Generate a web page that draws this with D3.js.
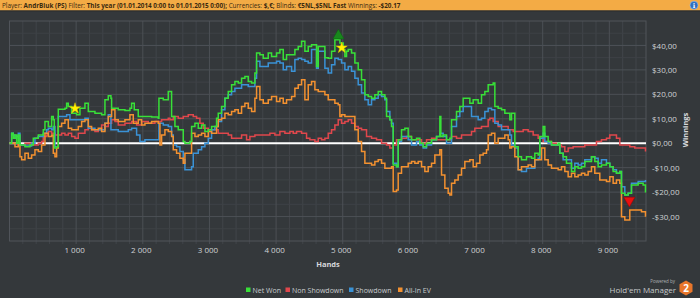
<!DOCTYPE html>
<html><head><meta charset="utf-8">
<script src="https://cdnjs.cloudflare.com/ajax/libs/d3/7.8.5/d3.min.js"></script>
<style>
html,body{margin:0;padding:0;background:#34383b;}
svg{display:block;}
</style></head>
<body>
<svg id="c" width="700" height="298"></svg>
<script>
// ---- DATA (hand, winnings $) ----
const netWon = [[0,0],[32,4.1],[57,2.0],[82,3.4],[107,0],[132,3.4],[157,-0.7],[232,-1.4],[307,-0.7],[357,2.0],[432,3.4],[507,5.5],[532,8.9],[582,6.8],[632,10.9],[657,9.6],[672,-2.0],[707,-1.4],[732,13.9],[832,14.3],[857,16.4],[882,15.0],[932,12.3],[1007,11.6],[1057,14.3],[1132,16.4],[1182,13.0],[1282,12.3],[1382,11.6],[1432,17.8],[1482,19.4],[1522,18.4],[1532,14.3],[1632,13.7],[1732,13.4],[1807,14.3],[1832,16.4],[1872,13.7],[1932,10.9],[2032,10.9],[2132,10.7],[2232,10.2],[2242,18.4],[2307,17.8],[2382,21.2],[2407,21.2],[2432,10.9],[2482,6.8],[2532,5.5],[2607,0.7],[2632,0],[2707,0.7],[2732,6.8],[2782,8.2],[2832,6.1],[2882,7.5],[2932,4.8],[2982,5.5],[3032,6.8],[3107,10.2],[3132,12.3],[3182,15.0],[3232,18.4],[3282,21.2],[3332,23.9],[3382,25.3],[3432,24.6],[3482,26.6],[3532,27.3],[3582,25.3],[3632,24.6],[3682,28.7],[3707,36.9],[3757,36.2],[3807,34.8],[3882,36.9],[3932,35.5],[4007,36.9],[4057,38.3],[4107,34.2],[4157,36.2],[4232,36.2],[4282,38.3],[4332,39.6],[4382,41.7],[4432,37.6],[4482,39.6],[4532,40.3],[4607,31.4],[4632,39.6],[4682,39.6],[4732,35.0],[4782,34.8],[4832,37.6],[4882,42.3],[4932,43.0],[4957,41.0],[5007,38.3],[5032,35.5],[5057,37.6],[5082,38.3],[5132,36.9],[5182,32.8],[5232,30.1],[5282,26.0],[5332,19.8],[5382,19.1],[5432,18.4],[5482,19.8],[5532,21.2],[5582,19.8],[5632,18.4],[5657,10.9],[5707,9.6],[5732,6.8],[5757,-8.9],[5807,-9.6],[5832,1.4],[5882,5.5],[5932,6.1],[5982,2.7],[6032,1.4],[6107,2.0],[6157,0],[6207,-1.4],[6257,0],[6332,1.4],[6407,2.7],[6457,10.9],[6472,2.7],[6507,3.4],[6557,1.4],[6607,2.0],[6632,9.6],[6707,13.0],[6757,15.0],[6807,18.4],[6857,18.4],[6907,16.4],[6957,17.8],[7032,16.4],[7082,19.8],[7132,21.2],[7182,23.9],[7257,24.6],[7282,15.0],[7332,14.3],[7382,13.7],[7432,12.3],[7507,9.6],[7532,12.3],[7582,-1.4],[7632,-5.5],[7682,-6.8],[7757,-5.5],[7832,-6.1],[7882,-4.1],[7932,-4.8],[7957,2.7],[8007,6.8],[8032,2.7],[8082,0.7],[8132,-0.7],[8232,0],[8257,-4.1],[8307,-5.5],[8357,-8.2],[8432,-11.6],[8482,-9.6],[8532,-10.2],[8582,-9.6],[8632,-7.5],[8732,-5.5],[8782,-7.5],[8832,-9.6],[8882,-8.9],[8957,-8.2],[9007,-9.6],[9057,-11.6],[9107,-12.3],[9157,-11.6],[9182,-20.5],[9232,-21.2],[9282,-20.5],[9332,-17.1],[9432,-16.4],[9507,-17.1],[9542,-20.2]];

const showdown = [[0,0],[32,4.1],[57,3.4],[82,2.0],[107,2.7],[132,4.1],[157,-0.7],[232,-1.1],[332,0],[382,2.0],[432,2.7],[507,4.1],[557,5.5],[582,6.1],[632,5.5],[657,6.8],[682,-1.4],[732,10.9],[807,10.9],[857,11.6],[907,9.6],[1082,9.6],[1132,10.2],[1182,6.1],[1282,5.5],[1382,5.5],[1432,8.2],[1482,11.6],[1522,5.5],[1632,4.8],[1782,5.5],[1832,6.1],[1907,3.4],[1957,0.7],[2032,1.4],[2207,1.4],[2242,8.2],[2307,7.5],[2382,6.8],[2432,3.4],[2457,-0.7],[2507,-1.4],[2557,-3.4],[2607,-6.8],[2632,-10.9],[2682,-10.9],[2732,-9.6],[2757,-4.1],[2832,-2.7],[2882,-1.4],[2932,0],[2982,2.0],[3032,5.5],[3082,6.8],[3132,8.9],[3182,13.7],[3232,18.4],[3282,19.8],[3332,21.2],[3382,22.5],[3482,23.9],[3582,23.2],[3632,23.2],[3682,26.6],[3707,33.5],[3757,31.4],[3832,31.4],[3882,32.8],[4007,33.5],[4057,32.8],[4107,30.1],[4157,31.4],[4232,29.4],[4282,34.2],[4332,34.8],[4382,34.2],[4432,33.5],[4482,32.8],[4532,38.3],[4607,30.7],[4632,37.6],[4682,37.6],[4732,30.7],[4782,28.7],[4832,32.1],[4882,34.8],[4932,34.2],[4982,32.8],[5032,30.1],[5082,31.4],[5132,29.4],[5182,26.6],[5232,23.9],[5282,20.5],[5332,17.8],[5382,15.7],[5432,17.8],[5482,18.4],[5532,19.8],[5582,19.1],[5632,17.8],[5657,13.0],[5707,9.6],[5732,8.2],[5757,-8.2],[5807,-9.6],[5832,0.7],[5882,2.7],[5982,1.4],[6032,-0.7],[6107,0.7],[6157,-0.7],[6207,-2.0],[6257,-0.7],[6332,1.4],[6407,2.7],[6457,4.1],[6507,2.7],[6557,0],[6632,6.8],[6707,10.9],[6757,13.0],[6807,15.0],[6932,10.9],[7032,9.6],[7082,10.2],[7132,13.0],[7182,14.3],[7232,13.7],[7282,8.2],[7332,7.5],[7382,5.5],[7507,3.4],[7532,-0.7],[7582,-2.0],[7632,-10.9],[7682,-11.6],[7757,-10.2],[7882,-6.8],[7932,-6.1],[7957,2.0],[8007,4.1],[8032,0.7],[8082,0],[8132,-0.7],[8257,-4.1],[8307,-6.8],[8432,-10.2],[8482,-8.2],[8532,-8.9],[8582,-8.2],[8632,-6.8],[8732,-5.5],[8782,-6.1],[8832,-8.2],[8882,-6.8],[8957,-8.2],[9007,-9.6],[9057,-10.9],[9107,-12.3],[9157,-11.6],[9182,-17.8],[9232,-21.2],[9282,-20.5],[9332,-16.4],[9432,-15.7],[9542,-15.0]];

const allInEV = [[0,0],[32,0],[82,-1.4],[132,-0.7],[157,-5.5],[182,-6.8],[232,-4.1],[282,-6.1],[332,-4.8],[382,-2.7],[432,-3.4],[482,-0.7],[532,4.1],[582,2.7],[632,3.4],[657,-4.1],[682,-5.5],[707,-2.0],[732,6.8],[782,8.2],[832,9.6],[882,6.1],[932,5.5],[1032,6.8],[1082,8.9],[1132,9.6],[1182,6.8],[1232,5.5],[1332,6.1],[1382,4.8],[1432,8.2],[1482,10.9],[1532,13.7],[1582,9.6],[1632,8.9],[1732,9.6],[1807,11.6],[1857,8.2],[1932,9.6],[1982,7.5],[2032,8.2],[2132,8.9],[2232,8.2],[2257,-0.7],[2282,3.4],[2332,5.5],[2382,4.8],[2432,2.7],[2457,-2.7],[2507,-4.1],[2557,-6.1],[2607,-8.2],[2632,-4.1],[2682,-4.1],[2732,4.1],[2782,2.7],[2832,3.4],[2882,4.1],[2932,2.7],[2982,4.8],[3032,4.1],[3107,6.8],[3132,9.6],[3182,10.2],[3232,12.3],[3282,11.6],[3332,13.0],[3382,13.7],[3432,12.3],[3482,15.0],[3532,16.4],[3582,14.3],[3632,13.0],[3682,18.4],[3707,23.2],[3757,17.8],[3807,16.4],[3882,17.8],[3932,19.1],[4007,17.1],[4057,18.4],[4107,16.4],[4157,17.8],[4232,19.1],[4282,22.5],[4332,23.9],[4382,26.0],[4432,17.8],[4482,23.9],[4532,25.3],[4582,21.9],[4632,21.2],[4682,21.2],[4732,19.8],[4782,17.8],[4882,16.4],[4932,15.7],[4957,10.9],[4982,11.6],[5032,10.9],[5132,10.9],[5182,5.5],[5232,0.7],[5282,-3.4],[5332,-8.2],[5432,-8.9],[5482,-7.5],[5532,-6.8],[5582,-8.2],[5632,-10.2],[5732,-9.6],[5757,-19.8],[5807,-19.1],[5832,-12.3],[5882,-9.6],[5982,-8.2],[6032,-7.5],[6082,-8.2],[6132,-7.5],[6182,-9.6],[6232,-11.6],[6282,-9.6],[6332,-8.2],[6382,-4.8],[6457,-2.7],[6482,-13.0],[6532,-18.4],[6582,-20.5],[6607,-21.2],[6632,-16.4],[6682,-15.0],[6732,-13.0],[6782,-10.2],[6832,-7.5],[6907,-6.8],[6957,-9.6],[7007,-8.2],[7057,-4.8],[7107,-4.1],[7157,-2.7],[7182,3.4],[7232,4.1],[7282,0],[7332,2.0],[7432,3.4],[7482,1.4],[7507,-2.0],[7532,-1.4],[7582,-5.5],[7632,-10.9],[7682,-9.6],[7782,-8.9],[7832,-9.6],[7882,-6.8],[7932,-6.8],[7982,-2.0],[8032,-6.8],[8082,-8.9],[8132,-10.2],[8232,-10.9],[8282,-9.6],[8332,-11.6],[8382,-13.7],[8432,-12.3],[8482,-13.7],[8532,-13.0],[8582,-12.3],[8632,-13.0],[8682,-11.6],[8732,-9.6],[8782,-12.3],[8857,-15.0],[8957,-15.7],[9007,-13.7],[9057,-16.4],[9107,-15.0],[9157,-16.4],[9182,-30.1],[9232,-31.4],[9307,-27.3],[9482,-28.0],[9542,-30.1]];

const nonShowdown = [[0,0],[32,0],[132,-0.7],[232,0],[332,-0.7],[432,0],[482,0.7],[507,2.7],[557,3.4],[582,4.8],[632,4.1],[682,3.4],[782,4.1],[832,3.4],[882,4.1],[932,2.7],[982,2.0],[1032,4.1],[1132,5.5],[1182,6.1],[1232,5.5],[1282,4.8],[1332,5.5],[1382,7.5],[1432,6.8],[1482,8.2],[1532,9.6],[1582,8.9],[1632,7.5],[1732,8.2],[1832,8.9],[1907,7.5],[1982,8.9],[2082,8.2],[2182,8.9],[2282,9.6],[2382,10.2],[2407,9.6],[2457,10.9],[2532,10.2],[2607,10.9],[2682,11.6],[2757,10.9],[2807,10.2],[2857,8.2],[2907,6.1],[2982,5.5],[3057,5.5],[3132,4.1],[3207,4.1],[3282,3.4],[3332,2.0],[3407,2.0],[3482,3.4],[3557,1.4],[3607,2.7],[3682,3.4],[3832,3.4],[3907,4.1],[3982,3.4],[4057,4.8],[4132,4.1],[4207,4.8],[4257,4.1],[4307,4.8],[4382,4.1],[4457,2.0],[4507,1.4],[4582,0.7],[4632,2.0],[4682,1.4],[4732,2.0],[4782,4.1],[4832,5.5],[4882,7.5],[4932,9.6],[4982,8.2],[5032,8.9],[5082,9.6],[5132,8.2],[5182,6.8],[5232,6.1],[5282,5.5],[5357,2.7],[5432,2.0],[5507,1.4],[5582,0],[5657,-0.7],[5707,-2.0],[5757,-0.7],[5807,1.4],[5882,2.0],[5957,2.7],[6032,1.4],[6107,1.4],[6182,0],[6257,1.4],[6332,2.0],[6407,1.4],[6482,1.4],[6557,1.4],[6632,2.7],[6707,2.0],[6782,3.4],[6857,3.4],[6932,4.8],[6982,6.1],[7082,6.8],[7182,9.6],[7207,10.2],[7257,8.9],[7332,6.8],[7407,6.8],[7482,5.5],[7557,4.8],[7632,4.8],[7707,5.5],[7782,4.8],[7857,3.4],[7932,2.0],[8007,0.7],[8082,0.7],[8132,0],[8207,-0.7],[8282,-1.4],[8332,-3.4],[8382,-2.0],[8457,-1.4],[8532,-1.4],[8632,-0.7],[8732,-0.7],[8807,0.7],[8882,1.4],[8957,2.0],[9007,3.4],[9057,3.4],[9107,2.0],[9157,-0.7],[9232,-0.7],[9307,-1.4],[9382,-2.0],[9457,-2.0],[9542,-3.4]];

const seriesNames = ["Net Won", "Non Showdown", "Showdown", "All-In EV"];
const xTicks = [1000,2000,3000,4000,5000,6000,7000,8000,9000];
const yTicks = [-30,-20,-10,0,10,20,30,40];
const starMarks = [[983,14.2],[4985,39.0]];
const upMarks = [[4935,44.0]];
const downMarks = [[9300,-23.4]];

// ---- CHART ----
const svg = d3.select("#c");
const W = 700, H = 298;
const L = 9.5, R = 646, T = 21, B = 241;
const x = d3.scaleLinear().domain([0, 9550]).range([L, R]);
const y = d3.scaleLinear().domain([-40, 50]).range([B, T]);
const FONT = "'Open Sans', sans-serif";

svg.append("rect").attr("width", W).attr("height", H).attr("fill", "#34383b");

// header bar
svg.append("rect").attr("x",0).attr("y",0).attr("width",W).attr("height",10.5).attr("fill","#f3ab45");
svg.append("rect").attr("x",0).attr("y",10.5).attr("width",W).attr("height",1).attr("fill","#2a2d2f");
const hdr = svg.append("text").attr("x",2).attr("y",7.6).attr("font-family",FONT)
  .attr("font-size",6.35).attr("fill","#3a2a10");
const parts = [["Player: ",400],["AndrBluk (PS) ",700],["Filter: ",400],["This year (01.01.2014 0:00 to 01.01.2015 0:00); ",700],["Currencies: ",400],["$,€; ",700],["Blinds: ",400],["€5NL,$5NL Fast ",700],["Winnings: ",400],["-$20.17",700]];
parts.forEach(p => hdr.append("tspan").attr("font-weight",p[1]).attr("xml:space","preserve").text(p[0]));
svg.append("circle").attr("cx",694).attr("cy",5.2).attr("r",4).attr("fill","#2f6fc0").attr("stroke","#9cc3ee").attr("stroke-width",0.6);
svg.append("text").attr("x",694).attr("y",7.6).attr("text-anchor","middle").attr("font-family","'DejaVu Serif', serif").attr("font-weight",700).attr("font-size",6.5).attr("fill","#fff").text("i");

// grid
const g = svg.append("g");
const minorX = d3.range(200, 9550, 200).filter(v => v % 1000 !== 0);
const minorY = d3.range(-35, 50, 5).filter(v => v % 10 !== 0);
g.selectAll(".mx").data(minorX).join("line").attr("x1",d=>x(d)).attr("x2",d=>x(d)).attr("y1",T).attr("y2",B+3)
  .attr("stroke","#41454a").attr("stroke-width",1);
g.selectAll(".my").data(minorY).join("line").attr("x1",L).attr("x2",R).attr("y1",d=>y(d)).attr("y2",d=>y(d))
  .attr("stroke","#3e4246").attr("stroke-width",1);
g.selectAll(".Mx").data(xTicks).join("line").attr("x1",d=>x(d)).attr("x2",d=>x(d)).attr("y1",T).attr("y2",B+3)
  .attr("stroke","#4c5055").attr("stroke-width",1);
g.selectAll(".My").data(yTicks.concat([40])).join("line").attr("x1",L).attr("x2",R).attr("y1",d=>y(d)).attr("y2",d=>y(d))
  .attr("stroke","#4c5055").attr("stroke-width",1);
g.append("rect").attr("x",L).attr("y",T).attr("width",R-L).attr("height",B-T).attr("fill","none").attr("stroke","#50545a").attr("stroke-width",1);

// axes
const xAxis = d3.axisBottom(x).tickValues(xTicks).tickSize(0).tickPadding(5)
  .tickFormat(d => d3.format(",")(d).replace(",", " "));
const xa = svg.append("g").attr("transform",`translate(0,${B+1})`).call(xAxis);
xa.select(".domain").remove();
xa.selectAll("text").attr("fill","#cfd2d4").attr("font-size",8).attr("font-family",FONT).attr("dx",-2);

const fmtY = d => (d < 0 ? "-" : "") + "$" + Math.abs(d).toFixed(2).replace(".", ",");
const yAxis = d3.axisRight(y).tickValues(yTicks).tickSize(0).tickPadding(6).tickFormat(fmtY);
const ya = svg.append("g").attr("transform",`translate(${R},0)`).call(yAxis);
ya.select(".domain").remove();
ya.selectAll("text").attr("fill","#cfd2d4").attr("font-size",8).attr("font-family",FONT);

svg.append("text").attr("x",328).attr("y",266.5).attr("text-anchor","middle").attr("font-family",FONT)
  .attr("font-weight",700).attr("font-size",7.5).attr("fill","#d7d9db").text("Hands");
svg.append("text").attr("transform","translate(688,130) rotate(-90)").attr("text-anchor","middle").attr("font-family",FONT)
  .attr("font-weight",700).attr("font-size",7.5).attr("fill","#d7d9db").text("Winnings");

// zero line
svg.append("line").attr("x1",L).attr("x2",R).attr("y1",y(0)).attr("y2",y(0)).attr("stroke","#ffffff").attr("stroke-width",2);

// lines
const line = d3.line().x(d=>x(d[0])).y(d=>y(d[1])).curve(d3.curveStepAfter);
const colors = {"Net Won":"#38e038","Non Showdown":"#e0474c","Showdown":"#3a92d6","All-In EV":"#f39130"};
const lg = svg.append("g");
[["Non Showdown", nonShowdown],["Showdown", showdown],["All-In EV", allInEV],["Net Won", netWon]].forEach(([n, d]) => {
  lg.append("path").datum(d).attr("d", line).attr("fill","none").attr("stroke",colors[n]).attr("stroke-width",1.5).attr("stroke-linejoin","miter");
});

// markers
const star = d3.symbol().type(d3.symbolStar).size(38);
svg.selectAll(".star").data(starMarks).join("path").attr("d",star).attr("transform",d=>`translate(${x(d[0])},${y(d[1])})`)
  .attr("fill","#fff200").attr("stroke","#e0c000").attr("stroke-width",0.5);
const tri = d3.symbol().type(d3.symbolTriangle).size(55);
svg.selectAll(".up").data(upMarks).join("path").attr("d",tri).attr("transform",d=>`translate(${x(d[0])},${y(d[1])})`)
  .attr("fill","#18871c").attr("stroke","#0f5e12").attr("stroke-width",0.5);
svg.selectAll(".dn").data(downMarks).join("path").attr("d",tri).attr("transform",d=>`translate(${x(d[0])},${y(d[1])}) rotate(180)`)
  .attr("fill","#e81010").attr("stroke","#a00000").attr("stroke-width",0.5);

// legend
const legX = [246, 285.5, 349, 398];
seriesNames.forEach((n,i) => {
  svg.append("rect").attr("x",legX[i]).attr("y",287.5).attr("width",4.5).attr("height",4.5).attr("fill",colors[n]);
  svg.append("text").attr("x",legX[i]+6.5).attr("y",292.5).attr("font-family",FONT).attr("font-size",7)
    .attr("fill","#c8cbcd").text(n);
});

// logo
svg.append("text").attr("x",675).attr("y",282.5).attr("text-anchor","end").attr("font-family",FONT).attr("font-size",4.5).attr("fill","#aeb1b4").text("Powered by");
svg.append("text").attr("x",676).attr("y",292.5).attr("text-anchor","end").attr("font-family",FONT).attr("font-size",8).attr("fill","#c5c8ca").text("Hold'em Manager");
const hex = d3.range(6).map(i => { const a = Math.PI/3*i + Math.PI/6; return [686 + 7.5*Math.cos(a), 288 + 7.5*Math.sin(a)]; });
svg.append("polygon").attr("points", hex.map(p=>p.join(",")).join(" ")).attr("fill","#e8762b");
svg.append("text").attr("x",686).attr("y",291.8).attr("text-anchor","middle").attr("font-family",FONT).attr("font-weight",700).attr("font-size",10).attr("fill","#fff").text("2");
</script>
</body></html>
